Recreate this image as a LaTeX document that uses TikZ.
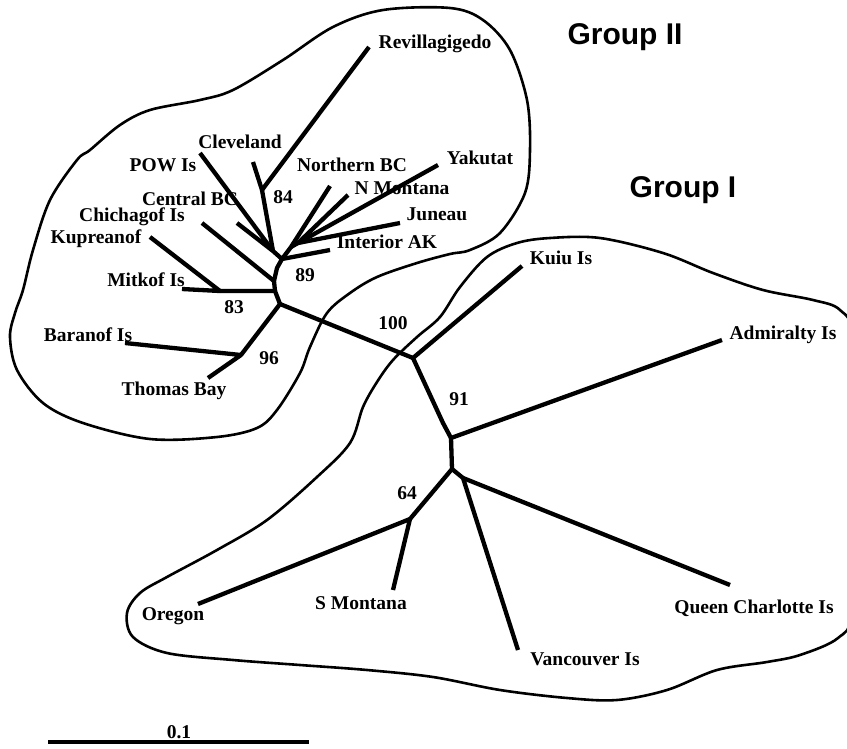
\documentclass[tikz,border=0pt]{standalone}
\usepackage{fontspec}
\setmainfont{Liberation Serif}
\newfontfamily\grpfont{Liberation Sans}
\begin{document}
\begin{tikzpicture}[x=1pt,y=-1pt,
  br/.style={line width=4.3pt, line cap=butt, line join=round},
  blob/.style={line width=2.6pt, line join=round},
  lab/.style={anchor=base, inner sep=0pt, font=\fontsize{19.5}{22}\selectfont\bfseries},
  grp/.style={anchor=base, inner sep=0pt, font=\grpfont\fontsize{30}{34}\selectfont\bfseries}]
\useasboundingbox (0,0) rectangle (847,748);
\fill[white] (0,0) rectangle (847,748);
\clip (0,0) rectangle (847,748);

% ---------- blobs ----------
\draw[blob] plot[smooth cycle, tension=0.55] coordinates {
 (90,150) (120,125) (150,110) (200,100) (233,90) (283,60) (333,27) (383,10)
 (450,8) (483,20) (510,50) (527,100) (530,150) (525,193) (500,233) (470,250)
 (450,254) (417,263) (377,277) (350,293) (327,313) (310,347) (300,373)
 (277,410) (257,428) (217,437) (150,439) (83,423) (43,403) (17,370)
 (10,337) (15,313) (23,290) (33,250) (50,200) (77,160)};

\draw[blob] plot[smooth cycle, tension=0.55] coordinates {
 (550,238) (600,238) (663,253) (713,273) (763,290) (813,300) (840,310)
 (853,340) (856,480) (852,610) (838,638) (800,655) (767,662) (717,670)
 (667,690) (617,700) (567,698) (500,690) (433,677) (367,670) (300,665)
 (233,660) (167,653) (133,637) (127,613) (140,593) (167,577) (217,550)
 (267,520) (317,477) (350,443) (363,407) (377,382) (393,360) (417,337)
 (440,317) (460,287) (487,257) (517,243)};

% ---------- tree coordinates ----------
\coordinate (r2) at (280,304);
\coordinate (j83) at (275,291);
\coordinate (jch) at (274,281);
\coordinate (jmid) at (277,268);
\coordinate (j89) at (282,259);
\coordinate (jpow) at (273,251);
\coordinate (n84) at (262,190);
\coordinate (n96) at (241,355);
\coordinate (n83) at (220,291);
\coordinate (n89b) at (291,247);
\coordinate (n89c) at (298,243);
\coordinate (n100) at (413,358);
\coordinate (nbend) at (443,423);
\coordinate (n91) at (451,438);
\coordinate (nlow) at (452,469);
\coordinate (nq) at (463,478);
\coordinate (n64) at (410,519);

\coordinate (tRev) at (369,47);
\coordinate (tCle) at (253,162);
\coordinate (tPOW) at (200,153);
\coordinate (tCBC) at (237,223);
\coordinate (tChi) at (202,223);
\coordinate (tKup) at (150,237);
\coordinate (tMit) at (182,289);
\coordinate (tBar) at (125,343);
\coordinate (tTho) at (208,378);
\coordinate (tNBC) at (330,186);
\coordinate (tNMo) at (348,195);
\coordinate (tYak) at (438,165);
\coordinate (tJun) at (400,223);
\coordinate (tInt) at (330,250);
\coordinate (tKui) at (522,266);
\coordinate (tAdm) at (722,340);
\coordinate (tOre) at (198,604);
\coordinate (tSMo) at (393,590);
\coordinate (tVan) at (518,650);
\coordinate (tQCI) at (730,585);

% ---------- branches ----------
\draw[br] (tBar) -- (n96) -- (tTho);
\draw[br] (n96) -- (r2) -- (n100);
\draw[br] (r2) -- (j83) -- (n83);
\draw[br] (tKup) -- (n83) -- (tMit);
\draw[br] (j83) -- (jch) -- (tChi);
\draw[br] (jch) -- (jmid) -- (j89) -- (jpow);
\draw[br] (tPOW) -- (jpow) -- (tCBC);
\draw[br] (jpow) -- (n84) -- (tCle);
\draw[br] (n84) -- (tRev);
\draw[br] (j89) -- (tInt);
\draw[br] (j89) -- (n89b) -- (tNBC);
\draw[br] (n89b) -- (n89c) -- (tNMo);
\draw[br] (n89c) -- (tYak);
\draw[br] (n89c) -- (tJun);
\draw[br] (n100) -- (tKui);
\draw[br] (n100) -- (nbend) -- (n91) -- (tAdm);
\draw[br] (n91) -- (nlow) -- (n64);
\draw[br] (nlow) -- (nq) -- (tVan);
\draw[br] (nq) -- (tQCI);
\draw[br] (tOre) -- (n64) -- (tSMo);

% ---------- labels ----------
\node[lab] (lRev) at (435,48) {Revillagigedo};
\node[lab] (lCle) at (240,148) {Cleveland};
\node[lab] (lPOW) at (163,171) {POW Is};
\node[lab] (lCBC) at (190,205) {Central BC};
\node[lab] (lChi) at (132,221) {Chichagof Is};
\node[lab] (lKup) at (96,243) {Kupreanof};
\node[lab] (lMit) at (146,286) {Mitkof Is};
\node[lab] (lBar) at (88,341) {Baranof Is};
\node[lab] (lTho) at (174,395) {Thomas Bay};
\node[lab] (lNBC) at (352,171) {Northern BC};
\node[lab] (lNMo) at (402,194) {N Montana};
\node[lab] (lYak) at (480,164) {Yakutat};
\node[lab] (lJun) at (437,220) {Juneau};
\node[lab] (lInt) at (387,248) {Interior AK};
\node[lab] (lKui) at (561,264) {Kuiu Is};
\node[lab] (lAdm) at (783,339) {Admiralty Is};
\node[lab] (lOre) at (173,620) {Oregon};
\node[lab] (lSMo) at (361,609) {S Montana};
\node[lab] (lQCI) at (754,613) {Queen Charlotte Is};
\node[lab] (lVan) at (585,665) {Vancouver Is};

\node[lab] (b83) at (234,313) {83};
\node[lab] (b96) at (269,364) {96};
\node[lab] (b89) at (305,281) {89};
\node[lab] (b84) at (283,203) {84};
\node[lab] (b100) at (393,329) {100};
\node[lab] (b91) at (459,405) {91};
\node[lab] (b64) at (407,499) {64};

\node[grp] (g2) at (625,44) {Group II};
\node[grp] (g1) at (683,197) {Group I};

% ---------- scale bar ----------
\coordinate (s0) at (48,742);
\coordinate (s1) at (309,742);
\draw[line width=4.3pt] (s0) -- (s1);
\node[lab] (sc) at (179,738) {0.1};
\end{tikzpicture}
\end{document}
